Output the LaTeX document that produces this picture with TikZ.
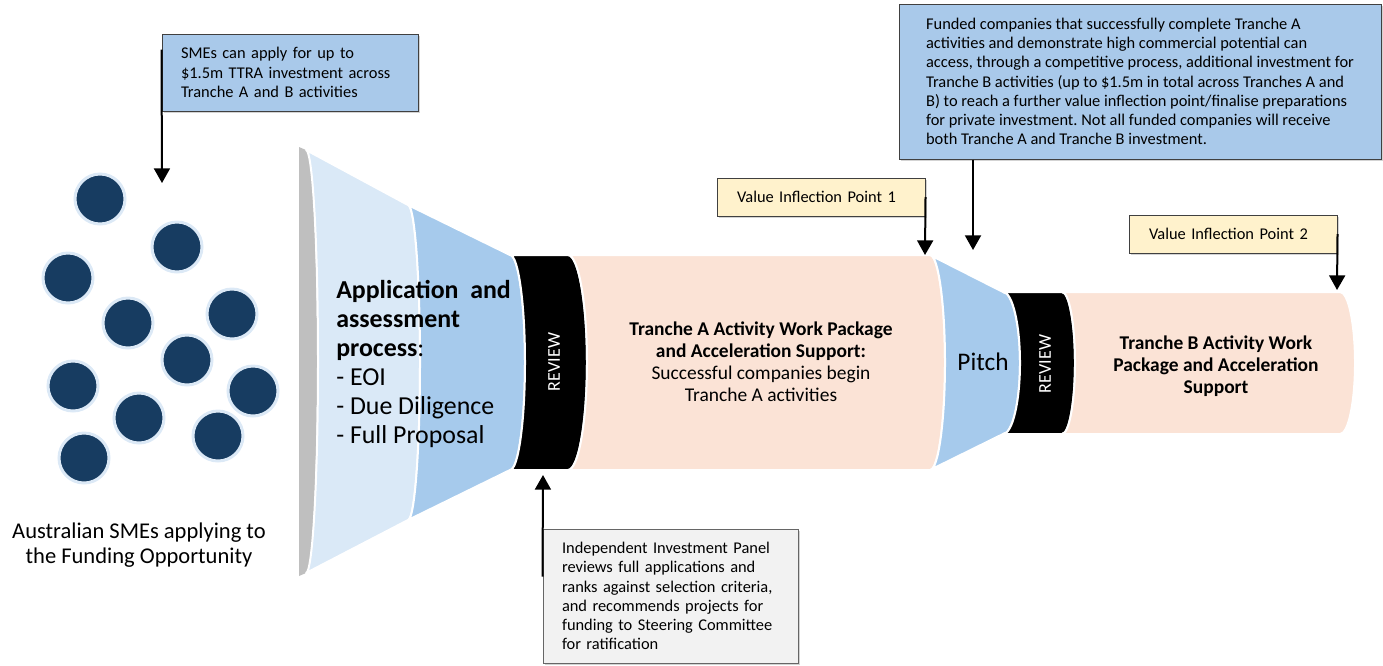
\documentclass[tikz,border=0pt]{standalone}
\usepackage{fontspec}
\setmainfont{Carlito}
\usetikzlibrary{arrows.meta,shadows,calc}
\definecolor{lblue}{HTML}{DAE9F7}
\definecolor{mblue}{HTML}{A6CAEC}
\definecolor{peach}{HTML}{FBE3D6}
\definecolor{grayface}{HTML}{BFBFBF}
\definecolor{navy}{HTML}{173C61}
\definecolor{ringc}{HTML}{DCE9F6}
\definecolor{cblue}{HTML}{A9C9EA}
\definecolor{cyel}{HTML}{FFF2CC}
\definecolor{cgray}{HTML}{F2F2F2}
\definecolor{bord}{HTML}{404040}
\frenchspacing
\begin{document}
\begin{tikzpicture}[x=0.75pt,y=0.75pt,
  sect/.style={draw=white,line width=1.5pt,line join=round},
  dot/.style={circle,fill=navy,draw=ringc,line width=2.25pt,minimum size=37.5pt,inner sep=0pt},
  callout/.style={draw=bord,line width=0.75pt,align=left,inner ysep=0pt,
     font=\fontsize{12.3pt}{14.4pt}\selectfont,
     drop shadow={shadow xshift=1.5pt,shadow yshift=-1.5pt,opacity=0.35}},
  arr/.style={line width=1.5pt,-{Triangle[width=12pt,length=11pt]}},
  rev/.style={text=white,rotate=90,font=\fontsize{13.5pt}{14pt}\selectfont},
]
\useasboundingbox (0,0) rectangle (1383,-665);

% circles
\node[dot] (c1) at (100,-199) {};
\node[dot] (c2) at (177,-247) {};
\node[dot] (c3) at (68,-278) {};
\node[dot] (c4) at (128,-323) {};
\node[dot] (c5) at (232,-314) {};
\node[dot] (c6) at (187,-360) {};
\node[dot] (c7) at (73,-386) {};
\node[dot] (c8) at (253,-391) {};
\node[dot] (c9) at (139,-418) {};
\node[dot] (c10) at (218,-436) {};
\node[dot] (c11) at (84,-458) {};
\node[align=center,font=\fontsize{16.9pt}{18.75pt}\selectfont] (aus) at (139,-545)
  {Australian SMEs applying to\\the Funding Opportunity};

% funnel
\fill[grayface] (299,-147) -- (306,-150) arc[start angle=90,end angle=-90,x radius=8.25pt,y radius=158.625pt] -- (299,-576) -- cycle;
\filldraw[sect,fill=lblue] (306,-150) -- (408,-205) arc[start angle=90,end angle=-90,x radius=9pt,y radius=118.125pt]
  -- (306,-573) arc[start angle=-90,end angle=90,x radius=9pt,y radius=158.625pt] -- cycle;
\filldraw[sect,fill=mblue] (408,-205) -- (510,-255) arc[start angle=90,end angle=-90,x radius=11.25pt,y radius=80.625pt]
  -- (408,-520) arc[start angle=-90,end angle=90,x radius=9pt,y radius=118.125pt] -- cycle;
\filldraw[sect,fill=black] (510,-255) -- (568,-255) arc[start angle=90,end angle=-90,x radius=14.25pt,y radius=80.625pt]
  -- (510,-470) arc[start angle=-90,end angle=90,x radius=11.25pt,y radius=80.625pt] -- cycle;
\filldraw[sect,fill=peach] (568,-255) -- (930,-255) arc[start angle=90,end angle=-90,x radius=11.25pt,y radius=80.625pt]
  -- (568,-470) arc[start angle=-90,end angle=90,x radius=14.25pt,y radius=80.625pt] -- cycle;
\filldraw[sect,fill=mblue] (930,-255) -- (1003,-292) arc[start angle=90,end angle=-90,x radius=12.75pt,y radius=53.25pt]
  -- (930,-470) arc[start angle=-90,end angle=90,x radius=11.25pt,y radius=80.625pt] -- cycle;
\filldraw[sect,fill=black] (1003,-292) -- (1062,-292) arc[start angle=90,end angle=-90,x radius=9.75pt,y radius=53.25pt]
  -- (1003,-434) arc[start angle=-90,end angle=90,x radius=12.75pt,y radius=53.25pt] -- cycle;
\filldraw[sect,fill=peach] (1062,-292) -- (1340,-292) arc[start angle=90,end angle=-90,x radius=11.25pt,y radius=53.25pt]
  -- (1062,-434) arc[start angle=-90,end angle=90,x radius=9.75pt,y radius=53.25pt] -- cycle;

% funnel texts
\node[anchor=west,align=left,inner sep=0pt,font=\fontsize{19.4pt}{21.75pt}\selectfont] (app) at (336,-363.5)
  {\textbf{Application\ \ and}\\\textbf{assessment}\\\textbf{process}:\\- EOI\\- Due Diligence\\- Full Proposal};
\node[rev] (rev1) at (554,-362) {REVIEW};
\node[rev] (rev2) at (1045,-364) {REVIEW};
\node[align=center,font=\fontsize{14.6pt}{16.5pt}\selectfont] (tra) at (761,-362)
  {\textbf{Tranche A Activity Work Package}\\\textbf{and Acceleration Support:}\\Successful companies begin\\Tranche A activities};
\node[font=\fontsize{19pt}{19pt}\selectfont] (pitch) at (983,-362) {Pitch};
\node[align=center,font=\bfseries\fontsize{14.6pt}{16.5pt}\selectfont] (trb) at (1216,-366)
  {Tranche B Activity Work\\Package and Acceleration\\Support};

% callouts
\node[callout,fill=cblue,text width=163.5pt,inner xsep=14.25pt,minimum height=57.75pt] (smes) at (290,-72.5)
  {SMEs can apply for up to\\\$1.5m TTRA investment across\\Tranche A and B activities};
\node[callout,fill=cblue,inner xsep=0pt,minimum width=361.5pt,minimum height=116.25pt] (fund) at (1140,-81.5)
  {Funded companies that successfully complete Tranche A\\activities and demonstrate high commercial potential can\\access, through a competitive process, additional investment for\\Tranche B activities (up to \$1.5m in total across Tranches A and\\B) to reach a further value inflection point/finalise preparations\\for private investment. Not all funded companies will receive\\both Tranche A and Tranche B investment.};
\node[callout,fill=cyel,text width=126pt,inner xsep=15pt,minimum height=28.5pt] (vip1) at (821,-197)
  {Value Inflection Point 1};
\node[callout,fill=cyel,text width=126pt,inner xsep=15pt,minimum height=28.5pt] (vip2) at (1233,-234)
  {Value Inflection Point 2};
\node[callout,fill=cgray,draw=bord!80,text width=162.75pt,inner xsep=14.25pt,minimum height=100.5pt] (indep) at (670.5,-596)
  {Independent Investment Panel\\reviews full applications and\\ranks against selection criteria,\\and recommends projects for\\funding to Steering Committee\\for ratification};

% arrow targets
\coordinate (tsmes) at (162,-183);
\coordinate (tvip1) at (925,-255);
\coordinate (tfund) at (973,-250);
\coordinate (tvip2) at (1337,-290);
\coordinate (tindep) at (543,-475);

\draw[arr] ($(smes.north west)+(0,-16)$) -- (tsmes);
\draw[arr] (vip1.east) -- (tvip1);
\draw[arr] (fund.south -| tfund) -- (tfund);
\draw[arr] (vip2.east) -- (tvip2);
\draw[arr] ($(indep.north west)+(0,-48)$) -- (tindep);
\end{tikzpicture}
\end{document}
